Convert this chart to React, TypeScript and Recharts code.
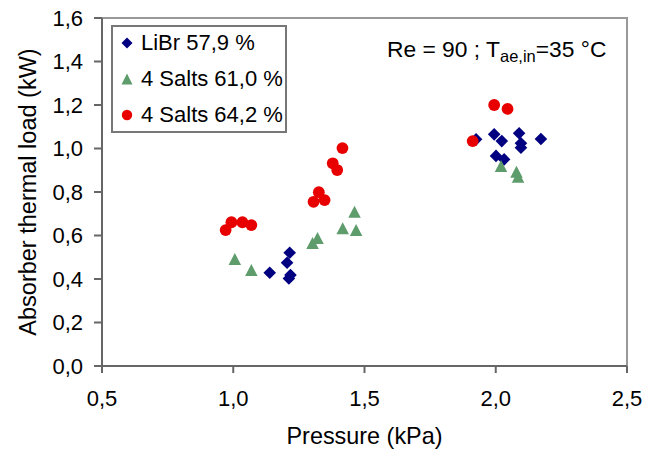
import React from 'react';
import { ScatterChart, Scatter, XAxis, YAxis, ReferenceArea, Legend } from 'recharts';

// Pressure (kPa) and absorber thermal load (kW)
const librPressure = [1.139, 1.215, 1.205, 1.218, 1.212, 1.925, 1.994, 2.023, 2.089, 2.096, 2.096, 2.172, 2.001, 2.032];
const librLoad = [0.429, 0.521, 0.475, 0.418, 0.402, 1.042, 1.065, 1.034, 1.070, 1.024, 1.004, 1.044, 0.966, 0.950];

const salts61Pressure = [1.006, 1.069, 1.302, 1.321, 1.417, 1.462, 1.468, 2.020, 2.079, 2.085];
const salts61Load = [0.492, 0.441, 0.566, 0.589, 0.633, 0.709, 0.625, 0.920, 0.893, 0.870];

const salts64Pressure = [0.971, 0.993, 1.035, 1.069, 1.306, 1.326, 1.348, 1.379, 1.396, 1.416, 1.994, 2.045, 1.912];
const salts64Load = [0.625, 0.661, 0.661, 0.648, 0.755, 0.799, 0.763, 0.932, 0.901, 1.002, 1.200, 1.182, 1.034];

const xTicks = [0.5, 1.0, 1.5, 2.0, 2.5];
const yTicks = [0, 0.2, 0.4, 0.6, 0.8, 1.0, 1.2, 1.4, 1.6];

const seriesNames = ['LiBr 57,9 %', '4 Salts 61,0 %', '4 Salts 64,2 %'];
const seriesColors = ['#000080', '#5E9C6C', '#E80000'];

const zip = (xs: number[], ys: number[]) => xs.map((x, i) => ({ x, y: ys[i] }));
const librData = zip(librPressure, librLoad);
const salts61Data = zip(salts61Pressure, salts61Load);
const salts64Data = zip(salts64Pressure, salts64Load);

const FONT = '"Liberation Sans", Arial, sans-serif';
const fmt = (v: number) => v.toFixed(1).replace('.', ',');

const Diamond = (props: any) => {
  const { cx, cy, fill } = props;
  const r = 6.3;
  return <path d={`M${cx},${cy - r}L${cx + r},${cy}L${cx},${cy + r}L${cx - r},${cy}Z`} fill={fill} />;
};
const Triangle = (props: any) => {
  const { cx, cy, fill } = props;
  const w = 12.5, h = 12;
  return <path d={`M${cx},${cy - h / 2}L${cx + w / 2},${cy + h / 2}L${cx - w / 2},${cy + h / 2}Z`} fill={fill} />;
};
const Circle = (props: any) => {
  const { cx, cy, fill } = props;
  return <circle cx={cx} cy={cy} r={5.9} fill={fill} />;
};

const LegendMarker = ({ idx }: { idx: number }) => {
  const c = seriesColors[idx];
  return (
    <svg width={14} height={14} style={{ display: 'block' }}>
      {idx === 0 && <path d="M7,1.5L12.5,7L7,12.5L1.5,7Z" fill={c} />}
      {idx === 1 && <path d="M7,1.5L12.5,12.5L1.5,12.5Z" fill={c} />}
      {idx === 2 && <circle cx={7} cy={7} r={5.2} fill={c} />}
    </svg>
  );
};

const LegendBox = () => (
  <div
    style={{
      width: 176,
      height: 108,
      boxSizing: 'border-box',
      border: '2px solid #777',
      background: '#fff',
      position: 'relative',
      fontFamily: FONT,
    }}
  >
    {seriesNames.map((name, i) => (
      <div
        key={name}
        style={{
          position: 'absolute',
          left: 7,
          top: 16 + i * 36 - 13,
          height: 26,
          display: 'flex',
          alignItems: 'center',
          whiteSpace: 'nowrap',
        }}
      >
        <LegendMarker idx={i} />
        <span style={{ marginLeft: 7, fontSize: 22, color: '#000', lineHeight: '26px' }}>{name}</span>
      </div>
    ))}
  </div>
);

export default function App() {
  return (
    <div style={{ position: 'absolute', left: 0, top: 0, width: 658, height: 454, background: '#fff' }}>
      <ScatterChart
        width={658}
        height={454}
        margin={{ top: 18, right: 31, bottom: 0, left: 0 }}
        style={{ fontFamily: FONT }}
      >
        <ReferenceArea x1={0.5} x2={2.5} y1={0} y2={1.6} fill="none" stroke="#999" strokeWidth={2} />
        <XAxis
          type="number"
          dataKey="x"
          domain={[0.5, 2.5]}
          ticks={xTicks}
          tickFormatter={fmt}
          height={88}
          stroke="#666"
          strokeWidth={2}
          tickSize={7}
          tickMargin={17}
          tick={{ fontSize: 22, fill: '#000', fontFamily: FONT }}
          label={{ value: 'Pressure (kPa)', position: 'insideBottom', offset: 10, fontSize: 23.4, fill: '#000', fontFamily: FONT }}
        />
        <YAxis
          type="number"
          dataKey="y"
          domain={[0, 1.6]}
          ticks={yTicks}
          tickFormatter={fmt}
          width={102}
          stroke="#666"
          strokeWidth={2}
          tickSize={8}
          tickMargin={11}
          tick={{ fontSize: 22, fill: '#000', fontFamily: FONT }}
          label={{
            value: 'Absorber thermal load (kW)',
            angle: -90,
            position: 'insideLeft',
            offset: 28,
            fontSize: 23.5,
            fill: '#000',
            fontFamily: FONT,
            style: { textAnchor: 'middle' },
          }}
        />
        <Legend
          layout="vertical"
          align="center"
          verticalAlign="middle"
          wrapperStyle={{ left: 111, top: 25, width: 176, height: 108 }}
          content={() => <LegendBox />}
        />
        <Scatter name={seriesNames[0]} data={librData} fill={seriesColors[0]} shape={Diamond} isAnimationActive={false} />
        <Scatter name={seriesNames[1]} data={salts61Data} fill={seriesColors[1]} shape={Triangle} isAnimationActive={false} />
        <Scatter name={seriesNames[2]} data={salts64Data} fill={seriesColors[2]} shape={Circle} isAnimationActive={false} />
      </ScatterChart>
      <svg width={658} height={454} style={{ position: 'absolute', left: 0, top: 0, pointerEvents: 'none' }}>
        <text x={387} y={57} fontFamily={FONT} fontSize={22.8} fill="#000">
          Re = 90 ; T
          <tspan fontSize={16.5} dy={5}>ae,in</tspan>
          <tspan dy={-5}>=35 °C</tspan>
        </text>
      </svg>
    </div>
  );
}
